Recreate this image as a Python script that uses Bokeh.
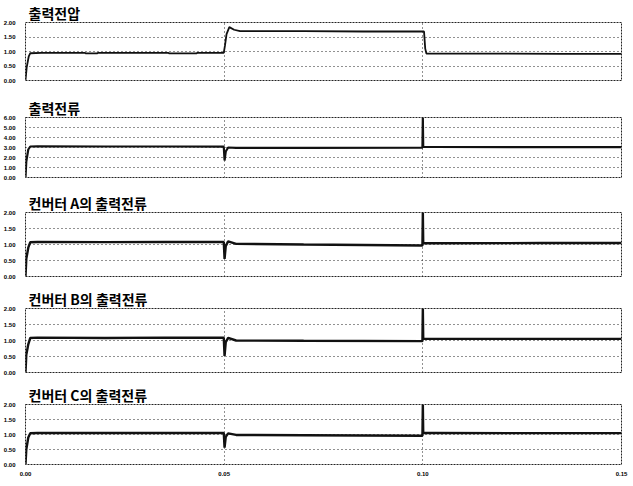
from bokeh.plotting import figure
from bokeh.layouts import column
from bokeh.models import Range1d, FixedTicker, NumeralTickFormatter
from bokeh.embed import file_html
from bokeh.resources import INLINE

# ---- data ----
titles = ["출력전압", "출력전류", "컨버터 A의 출력전류", "컨버터 B의 출력전류", "컨버터 C의 출력전류"]
x_ticks = [0.0, 0.05, 0.10, 0.15]
x_grid = [0.05, 0.10]

yticks_v = [0.0, 0.5, 1.0, 1.5, 2.0]
yticks_io = [0.0, 1.0, 2.0, 3.0, 4.0, 5.0, 6.0]
yticks_conv = [0.0, 0.5, 1.0, 1.5, 2.0]

t_v = [0, 0.0003, 0.0008, 0.0012, 0.004, 0.015, 0.0152, 0.018, 0.0182, 0.036, 0.0362,
       0.043, 0.0432, 0.0499, 0.0502, 0.0506, 0.0513, 0.0525, 0.054, 0.07, 0.085,
       0.1003, 0.1006, 0.1009, 0.12, 0.135, 0.15]
v_out = [0, 0.45, 0.82, 0.94, 0.95, 0.95, 0.935, 0.935, 0.95, 0.95, 0.935,
         0.935, 0.95, 0.95, 1.2, 1.6, 1.84, 1.75, 1.70, 1.70, 1.69,
         1.69, 1.1, 0.93, 0.93, 0.92, 0.92]

t_i = [0, 0.0002, 0.0007, 0.0012, 0.003, 0.02, 0.035, 0.0499, 0.0501, 0.0504, 0.0510,
       0.0530, 0.07, 0.0999, 0.1, 0.1001, 0.103, 0.13, 0.15]
i_out = [0, 1.6, 2.8, 3.1, 3.12, 3.1, 3.1, 3.08, 1.7, 2.6, 3.0,
         2.97, 2.97, 2.98, 6.0, 3.05, 3.05, 3.03, 3.03]
i_a = [0, 0.55, 0.9, 1.07, 1.08, 1.075, 1.08, 1.08, 0.55, 0.95, 1.1,
       1.02, 1.0, 0.97, 2.0, 1.04, 1.04, 1.045, 1.045]
i_b = [0, 0.55, 0.88, 1.08, 1.09, 1.08, 1.09, 1.085, 0.52, 0.95, 1.08,
       1.0, 0.99, 0.98, 2.0, 1.055, 1.05, 1.05, 1.05]
i_c = [0, 0.5, 0.9, 1.04, 1.05, 1.05, 1.055, 1.05, 0.56, 0.92, 1.04,
       0.985, 0.975, 0.96, 2.0, 1.05, 1.05, 1.045, 1.045]

series = [(t_v, v_out, yticks_v), (t_i, i_out, yticks_io), (t_i, i_a, yticks_conv),
          (t_i, i_b, yticks_conv), (t_i, i_c, yticks_conv)]

# layout: (frame_height, min_border_top, min_border_bottom)
layouts = [(58, 22, 15), (60, 21, 13), (64, 22, 10), (64, 21, 10), (60, 21, 0)]
widths = [1.8, 2.2, 2.4, 2.4, 2.4]

KFONT = "Noto Sans CJK KR"
figs = []
for k, ((t, y, yt), (fh, bt, bb), lw) in enumerate(zip(series, layouts, widths)):
    last = (k == len(series) - 1)
    p = figure(frame_width=596, frame_height=fh, output_backend="svg", toolbar_location=None,
               x_range=Range1d(0, 0.15), y_range=Range1d(yt[0], yt[-1]),
               x_axis_location=("below" if last else None),
               min_border_left=19, min_border_right=8,
               min_border_top=bt, min_border_bottom=bb)
    p.title.text = titles[k]
    p.title.text_font = KFONT
    p.title.text_font_style = "bold"
    p.title.text_font_size = "14px"
    p.title.offset = 3
    p.title.standoff = 0
    p.title.text_color = "#000000"

    p.yaxis.ticker = FixedTicker(ticks=yt)
    p.yaxis.formatter = NumeralTickFormatter(format="0.00")
    p.yaxis.axis_line_color = None
    p.yaxis.major_tick_line_color = None
    p.yaxis.minor_tick_line_color = None
    p.yaxis.major_label_text_font_size = "6px"
    p.yaxis.major_label_text_font_style = "bold"
    p.yaxis.major_label_text_color = "#000000"
    p.yaxis.major_label_standoff = 4

    if last:
        p.xaxis.ticker = FixedTicker(ticks=x_ticks)
        p.xaxis.formatter = NumeralTickFormatter(format="0.00")
        p.xaxis.axis_line_color = None
        p.xaxis.major_tick_line_color = None
        p.xaxis.minor_tick_line_color = None
        p.xaxis.major_label_text_font_size = "6px"
        p.xaxis.major_label_text_font_style = "bold"
        p.xaxis.major_label_text_color = "#000000"
        p.xaxis.major_label_standoff = 1

    p.xgrid.ticker = FixedTicker(ticks=x_grid)
    p.xgrid.grid_line_color = "#222222"
    p.xgrid.grid_line_dash = "1 3"
    p.xgrid.grid_line_width = 1
    p.ygrid.ticker = FixedTicker(ticks=yt)
    p.ygrid.grid_line_color = "#222222"
    p.ygrid.grid_line_dash = "1 3"
    p.ygrid.grid_line_width = 1

    p.outline_line_color = "#222222"
    p.outline_line_dash = "2 1"
    p.outline_line_width = 1
    p.background_fill_color = "white"
    p.border_fill_color = "white"

    p.line(t, y, line_color="#111111", line_width=lw)
    figs.append(p)

layout = column(*figs, spacing=0)
open("out.html", "w").write(file_html(layout, INLINE))
